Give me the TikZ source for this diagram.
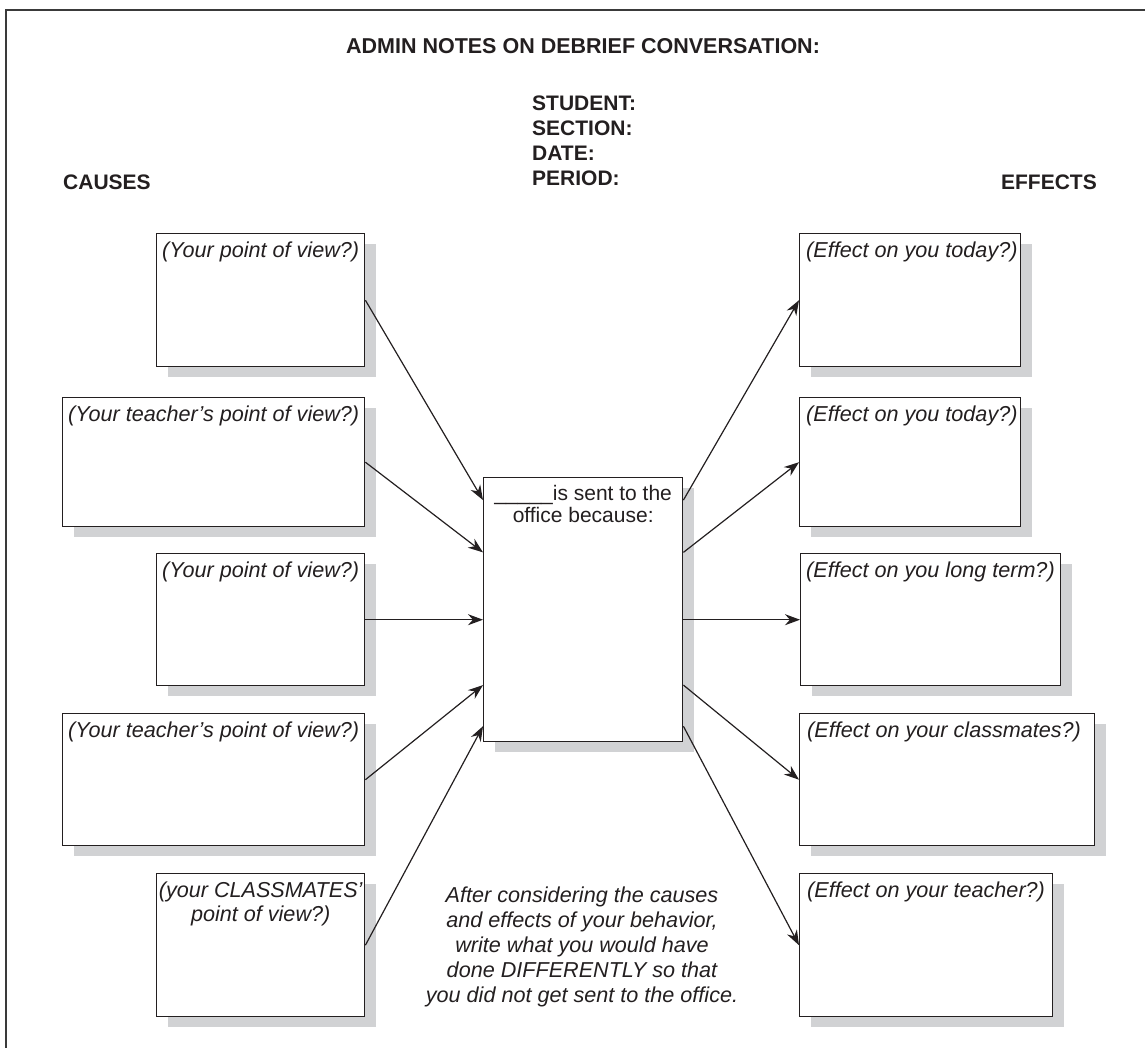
\documentclass[tikz,border=0pt]{standalone}
\usepackage{fontspec}
\setmainfont{Liberation Sans}
\usetikzlibrary{arrows.meta,calc,shadows}
\definecolor{ink}{HTML}{231F20}
\definecolor{shade}{HTML}{D1D2D4}
\definecolor{framec}{HTML}{3A3A3A}
\tikzset{
  cbox/.style={draw=ink, line width=1.4pt, fill=white, rectangle, inner sep=0pt, anchor=north west,
     drop shadow={shadow xshift=11pt, shadow yshift=-10pt, fill=shade, opacity=1}},
  btxt/.style={font=\fontsize{21.6}{25}\selectfont\itshape, text=ink, inner sep=0pt, anchor=base west},
  ctxt/.style={font=\fontsize{21.6}{25}\selectfont\itshape, text=ink, inner sep=0pt, anchor=base},
  mtxt/.style={font=\fontsize{21}{24}\selectfont, text=ink, inner sep=0pt, anchor=base},
  hdr/.style={font=\fontsize{21}{24}\selectfont\bfseries, text=ink, inner sep=0pt, anchor=base west},
  conn/.style={draw=ink, line width=1.2pt, -{Stealth[length=15pt,width=11pt]}},
}
\begin{document}
\begin{tikzpicture}[x=1pt,y=-1pt]
\useasboundingbox (0,0) rectangle (1145,1047);
% frame
\draw[framec, line width=2pt] (1150,10) -- (6,10) -- (6,1052);
% headings
\node[hdr, anchor=base, font=\fontsize{21.5}{24}\selectfont\bfseries] (title) at (583,53) {ADMIN NOTES ON DEBRIEF CONVERSATION:};
\node[hdr] (student) at (532,110) {STUDENT:};
\node[hdr] (section) at (532,135) {SECTION:};
\node[hdr] (date) at (532,160) {DATE:};
\node[hdr] (period) at (532,185) {PERIOD:};
\node[hdr] (causes) at (63,189) {CAUSES};
\node[hdr, anchor=base east] (effects) at (1097,189) {EFFECTS};
% left boxes
\node[cbox, minimum width=208pt, minimum height=133pt] (L1) at (156,233) {};
\node[cbox, minimum width=302pt, minimum height=129pt] (L2) at (62,397) {};
\node[cbox, minimum width=208pt, minimum height=132pt] (L3) at (156,553) {};
\node[cbox, minimum width=302pt, minimum height=132pt] (L4) at (62,713) {};
\node[cbox, minimum width=208pt, minimum height=143pt] (L5) at (156,873) {};
% center box
\node[cbox, minimum width=199pt, minimum height=264pt] (C) at (483,477) {};
% right boxes
\node[cbox, minimum width=221pt, minimum height=133pt] (R1) at (799,233) {};
\node[cbox, minimum width=221pt, minimum height=129pt] (R2) at (799,397) {};
\node[cbox, minimum width=260pt, minimum height=132pt] (R3) at (800,553) {};
\node[cbox, minimum width=295pt, minimum height=132pt] (R4) at (799,713) {};
\node[cbox, minimum width=253pt, minimum height=143pt] (R5) at (799,873) {};
% box texts
\node[btxt] (L1t) at ($(L1.north west)+(6,24)$) {(Your point of view?)};
\node[btxt] (L2t) at ($(L2.north west)+(6,24)$) {(Your teacher’s point of view?)};
\node[btxt] (L3t) at ($(L3.north west)+(6,24)$) {(Your point of view?)};
\node[btxt] (L4t) at ($(L4.north west)+(6,24)$) {(Your teacher’s point of view?)};
\node[ctxt] (L5a) at ($(L5.north)+(0,24)$) {(your CLASSMATES’};
\node[ctxt] (L5b) at ($(L5.north)+(0,48)$) {point of view?)};
\node[mtxt] (Ca) at ($(C.north)+(0,23)$) {\_\_\_\_\_is sent to the};
\node[mtxt] (Cb) at ($(C.north)+(0,45)$) {office because:};
\node[btxt] (R1t) at ($(R1.north west)+(7,24)$) {(Effect on you today?)};
\node[btxt] (R2t) at ($(R2.north west)+(7,24)$) {(Effect on you today?)};
\node[btxt] (R3t) at ($(R3.north west)+(6,24)$) {(Effect on you long term?)};
\node[btxt] (R4t) at ($(R4.north west)+(8,24)$) {(Effect on your classmates?)};
\node[btxt] (R5t) at ($(R5.north west)+(8,24)$) {(Effect on your teacher?)};
% bottom paragraph
\node[ctxt] (q1) at (582,902) {After considering the causes};
\node[ctxt] (q2) at (582,927) {and effects of your behavior,};
\node[ctxt] (q3) at (582,952) {write what you would have};
\node[ctxt] (q4) at (582,977) {done DIFFERENTLY so that};
\node[ctxt] (q5) at (582,1002) {you did not get sent to the office.};
% connector end points on the center box
\coordinate (p1) at ($(C.north west)!0.087!(C.south west)$);
\coordinate (p2) at ($(C.north west)!0.284!(C.south west)$);
\coordinate (p3) at (C.west |- L3.east);
\coordinate (p4) at ($(C.north west)!0.784!(C.south west)$);
\coordinate (p5) at ($(C.north west)!0.939!(C.south west)$);
\coordinate (e1) at ($(C.north east)!0.087!(C.south east)$);
\coordinate (e2) at ($(C.north east)!0.284!(C.south east)$);
\coordinate (e3) at (C.east |- R3.west);
\coordinate (e4) at ($(C.north east)!0.784!(C.south east)$);
\coordinate (e5) at ($(C.north east)!0.939!(C.south east)$);
% connectors
\draw[conn] (L1.east) -- (p1);
\draw[conn] (L2.east) -- (p2);
\draw[conn] (L3.east) -- (p3);
\draw[conn] (L4.east) -- (p4);
\draw[conn] (L5.east) -- (p5);
\draw[conn] (e1) -- (R1.west);
\draw[conn] (e2) -- (R2.west);
\draw[conn] (e3) -- (R3.west);
\draw[conn] (e4) -- (R4.west);
\draw[conn] (e5) -- (R5.west);
\end{tikzpicture}
\end{document}
